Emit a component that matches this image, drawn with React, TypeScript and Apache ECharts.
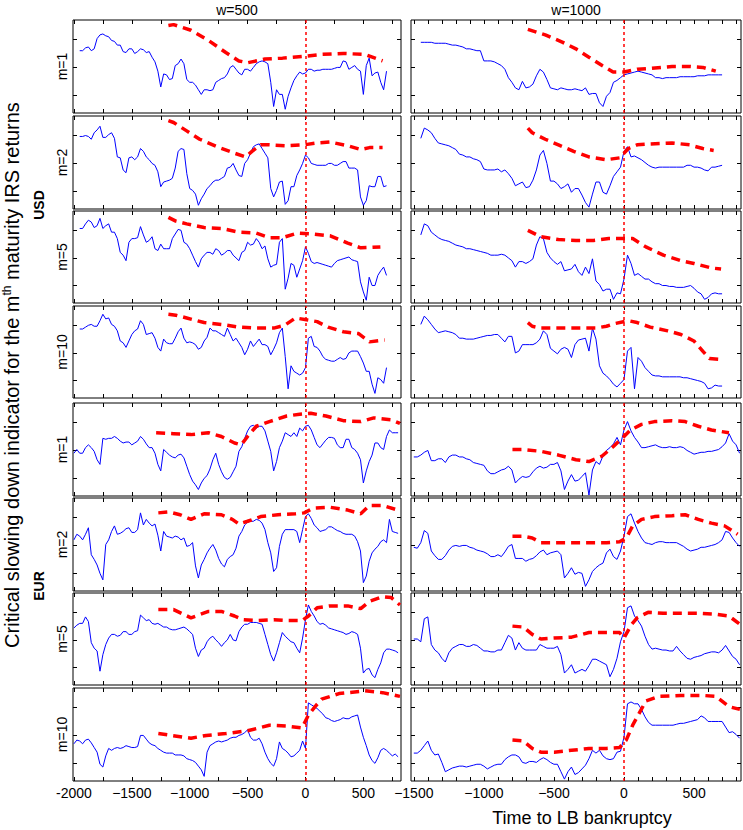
import { useEffect, useRef } from 'react';
import * as echarts from 'echarts';

// ---------- sampling of the time axis (days to LB bankruptcy) ----------
const STEP = 25;
const START_USD_W500 = -1950;
const START_USD_W1000 = -1450;
const START_EUR_W500 = -2000;
const START_EUR_W1000 = -1500;

// ---------- IRS returns (blue), % of panel height, one value every 25 days ----------
const USD_M1_W500 = [
  67,67,70,71,67,69,80,84,85,83, 82,78,77,73,73,66,65,69,69,64, 66,69,68,65,66,60,55,45,28,42,
  41,36,37,51,53,58,53,36,33,33, 30,25,20,25,25,24,25,33,35,37, 38,42,49,51,47,43,41,47,47,45,
  49,53,55,56,55,53,33,7,25,20, 20,4,18,27,35,40,44,42,43,47, 47,45,46,46,47,47,47,47,48,49,
  49,56,55,47,49,51,47,45,20,51, 59,40,43,44,33,25,45];
const USD_M2_W500 = [
  78,78,79,78,75,82,85,89,77,77, 80,82,76,56,55,42,39,55,56,53, 56,65,62,56,53,49,47,40,24,29,
  30,31,33,44,62,65,64,38,22,20, 16,4,11,16,22,25,29,31,31,33, 35,44,45,49,42,36,35,49,53,60,
  67,69,70,65,60,55,22,13,20,29, 30,5,9,24,24,36,42,49,58,55, 49,48,47,47,47,47,49,49,47,47,
  49,51,51,44,44,44,42,13,4,9, 25,24,24,35,35,24,25];
const USD_M5_W500 = [
  81,81,86,90,88,82,84,92,81,84, 86,77,77,70,55,52,46,66,70,70, 71,83,74,66,68,72,59,57,64,59,
  59,59,70,75,80,79,66,64,59,52, 45,39,48,52,55,55,53,59,57,52, 54,57,57,52,49,46,55,57,66,63,
  64,70,66,59,62,48,39,41,42,66, 70,15,27,43,41,28,37,46,61,54, 45,43,44,43,42,41,40,39,43,46,
  47,48,49,50,47,46,45,23,12,3, 28,19,19,30,35,39,30];
const USD_M10_W500 = [
  75,75,77,79,80,78,78,84,91,86, 87,80,78,73,62,60,55,62,69,73, 75,84,80,69,70,71,65,55,51,64,
  60,59,59,65,72,76,65,60,61,60, 58,53,55,62,66,76,73,73,71,69, 67,76,69,62,65,60,55,47,53,62,
  56,60,64,58,58,56,47,53,60,71, 76,45,10,35,29,27,25,27,33,65, 67,56,55,51,45,42,41,40,40,42,
  44,42,43,49,51,51,51,45,38,29, 29,15,5,22,20,16,33];
const USD_M1_W1000 = [
  76,76,76,76,75,75,75,75,74,73, 73,72,71,69,69,68,67,67,56,56, 56,55,53,51,47,38,33,27,25,34,
  27,28,31,40,47,44,36,27,26,25, 27,26,25,25,26,25,24,27,20,21, 21,11,7,18,22,33,35,38,41,42,
  43,44,45,44,43,42,41,38,38,37, 38,38,38,38,39,39,39,39,39,40, 40,40,41,41,41,41,41];
const USD_M2_W1000 = [
  76,87,85,82,76,71,70,69,68,66, 64,59,58,56,56,54,53,51,43,42, 42,42,43,40,42,38,33,25,27,29,
  23,24,31,42,58,63,49,30,30,27, 22,24,27,18,22,22,15,7,2,16, 29,29,18,16,25,35,40,45,62,67,
  56,57,55,53,50,47,45,44,45,45, 45,45,45,45,45,45,47,47,45,45, 44,42,41,45,45,46,47];
const USD_M5_W1000 = [
  74,86,84,77,74,71,69,68,67,65, 63,62,61,59,59,58,57,56,55,54, 52,52,52,53,52,49,46,39,45,45,
  43,45,48,63,72,70,55,49,45,42, 45,35,36,37,42,34,30,39,32,48, 24,20,13,15,15,4,11,10,26,52,
  43,30,32,29,26,26,23,21,21,19, 19,18,18,17,17,17,18,19,16,12, 10,4,6,10,11,10,10];
const USD_M10_W1000 = [
  80,89,85,80,75,71,72,73,72,71, 69,65,65,64,64,64,65,66,67,68, 68,69,69,65,61,67,67,49,51,58,
  58,58,58,60,64,73,69,54,51,48, 53,55,53,44,58,63,64,65,51,76, 64,35,27,24,20,15,12,16,20,51,
  55,10,44,40,33,29,25,24,24,23, 23,23,23,23,23,22,22,21,20,19, 18,16,10,11,14,13,13];
const EUR_M1_W500 = [
  46,50,46,46,52,55,52,48,39,34, 62,61,62,62,64,62,59,57,58,58, 55,57,59,64,61,56,52,52,46,34,
  27,50,47,44,42,41,44,45,41,32, 23,16,12,7,14,19,22,29,39,46, 34,26,20,18,20,26,32,48,53,62,
  70,75,76,73,75,75,70,59,48,27, 37,52,59,68,66,64,68,64,73,70, 75,76,71,63,55,52,56,60,63,63,
  62,55,52,52,61,61,52,50,46,39, 14,27,37,44,57,57,52,50,64,71, 68,68,68];
const EUR_M2_W500 = [
  55,61,59,55,61,68,39,34,28,19, 12,50,55,64,70,61,62,64,67,68, 63,63,66,84,71,77,73,70,72,60,
  43,64,59,58,57,59,58,55,57,48, 49,52,27,14,28,34,41,46,50,44, 35,29,26,34,37,39,46,59,64,71,
  74,75,75,77,76,73,66,52,41,21, 25,48,61,66,66,66,66,64,52,66, 80,83,78,71,68,64,65,66,69,69,
  67,65,64,62,61,61,61,59,53,43, 9,16,32,41,45,48,53,55,52,77, 64,63,62];
const EUR_M5_W500 = [
  62,65,67,67,74,69,46,40,37,15, 33,44,51,55,55,53,54,58,58,55, 55,58,59,76,73,70,71,67,66,67,
  65,63,63,61,60,60,61,62,63,61, 58,55,40,31,38,40,47,51,53,49, 46,42,46,49,55,49,48,58,63,66,
  66,68,68,68,67,66,55,44,33,26, 35,46,57,53,50,47,46,40,35,51, 71,87,80,75,69,66,67,65,62,61,
  60,59,58,57,55,56,58,57,55,40, 13,17,18,11,8,17,24,35,39,39, 38,37,35];
const EUR_M10_W500 = [
  40,44,43,40,44,45,41,36,31,18, 15,27,35,33,35,36,35,36,38,37, 36,36,37,49,49,45,41,39,38,35,
  33,31,30,30,30,28,28,28,27,24, 23,22,20,16,12,5,31,38,40,42, 43,42,43,44,46,47,47,49,50,52,
  55,47,44,44,46,40,31,24,19,16, 24,42,35,33,30,26,27,30,33,43, 35,84,82,80,78,75,72,68,67,65,
  64,65,66,68,67,67,69,70,71,58, 47,38,28,22,19,25,33,35,33,30, 27,29,26];
const EUR_M1_W1000 = [
  42,42,44,47,49,38,38,40,40,36, 42,44,44,42,42,40,39,36,35,34, 33,27,24,24,26,28,29,32,28,14,
  18,21,20,21,26,30,32,30,31,34, 34,36,27,7,16,23,16,17,21,25, 1,28,37,34,43,49,52,56,63,55,
  71,80,70,63,58,52,52,53,54,55, 53,52,52,53,52,52,53,52,49,47, 45,46,47,47,48,48,49,50,53,57,
  67,59,55,46];
const EUR_M2_W1000 = [
  47,46,52,65,62,43,38,34,34,38, 44,48,49,48,49,49,47,46,44,43, 42,40,37,37,39,37,42,48,50,35,
  35,35,32,34,35,38,42,44,39,41, 42,43,39,14,19,25,18,20,19,5, 12,21,25,28,30,41,45,37,34,43,
  59,80,83,73,64,57,52,51,50,52, 53,53,52,52,52,52,50,48,45,43, 44,45,47,47,48,49,50,52,55,64,
  63,57,52,48];
const EUR_M5_W1000 = [
  50,50,47,72,74,44,38,35,29,25, 35,40,42,44,44,42,42,44,43,40, 37,37,36,36,38,38,46,54,51,38,
  46,40,38,38,38,38,44,42,40,40, 40,42,33,13,17,22,13,15,17,15, 21,28,28,26,24,22,9,17,29,47,
  58,84,86,75,70,64,53,44,39,40, 39,38,38,37,37,42,37,33,29,28, 30,31,32,34,35,36,36,35,38,43,
  37,31,28,22];
const EUR_M10_W1000 = [
  30,30,33,38,43,33,28,29,20,10, 12,14,15,16,16,15,16,17,18,18, 16,13,15,17,18,18,23,26,28,28,
  26,20,19,21,21,20,23,25,23,20, 18,18,10,2,10,15,7,9,13,17, 24,33,30,33,27,24,23,24,31,32,
  47,83,85,83,83,77,69,63,60,60, 60,60,60,60,60,61,62,62,63,64, 65,66,70,68,64,64,64,64,64,58,
  52,53,50,46];

// ---------- critical slowing down indicator (red dashed), [time, %] ----------
const CSD_USD_M1_W500 = [[-1184,94],[-1139,95],[-989,89],[-838,78],[-688,65],[-575,56],[-500,54],[-350,58],[-199,59],[-11,61],[139,63],[327,64],[515,63],[666,56]];
const CSD_USD_M2_W500 = [[-1184,95],[-1139,93],[-1026,84],[-914,75],[-763,67],[-613,60],[-519,56],[-462,62],[-387,69],[-312,69],[-162,68],[-11,69],[101,71],[214,72],[365,68],[477,64],[553,66],[666,66]];
const CSD_USD_M5_W500 = [[-1184,93],[-1120,89],[-1026,86],[-876,82],[-726,81],[-575,77],[-425,76],[-312,71],[-199,71],[-68,76],[64,75],[214,73],[365,65],[477,60],[647,61]];
const CSD_USD_M10_W500 = [[-1184,91],[-1120,90],[-1026,87],[-876,82],[-726,80],[-575,77],[-425,76],[-274,76],[-180,79],[-86,87],[8,85],[101,83],[195,77],[327,72],[459,70],[553,61],[684,63]];
const CSD_USD_M1_W1000 = [[-686,90],[-562,84],[-437,76],[-343,69],[-250,60],[-156,51],[-78,44],[0,44],[94,47],[187,48],[343,50],[468,50],[562,49],[655,45]];
const CSD_USD_M2_W1000 = [[-686,87],[-655,82],[-562,75],[-468,69],[-359,62],[-250,56],[-125,53],[-31,55],[31,65],[94,69],[187,70],[343,71],[468,69],[562,65],[640,63]];
const CSD_USD_M5_W1000 = [[-686,79],[-593,72],[-468,69],[-343,68],[-218,68],[-109,70],[0,70],[62,70],[156,61],[281,52],[406,46],[499,43],[624,38],[693,37]];
const CSD_USD_M10_W1000 = [[-686,82],[-655,78],[-593,76],[-400,76],[-203,76],[-125,78],[-62,81],[31,84],[94,82],[187,77],[312,73],[406,69],[499,62],[562,51],[609,43],[693,42]];
const CSD_EUR_M1_W500 = [[-1290,68],[-1139,67],[-989,66],[-838,68],[-726,64],[-613,57],[-556,55],[-500,64],[-425,75],[-312,80],[-162,86],[-49,88],[45,89],[177,86],[327,81],[477,80],[590,84],[741,82],[816,78]];
const CSD_EUR_M2_W500 = [[-1271,84],[-1177,85],[-1083,82],[-989,77],[-876,83],[-726,82],[-632,77],[-575,72],[-500,75],[-387,80],[-237,82],[-86,83],[-11,84],[64,89],[214,90],[365,87],[477,83],[553,92],[666,92],[797,87]];
const CSD_EUR_M5_W500 = [[-1271,82],[-1139,82],[-989,73],[-838,80],[-726,80],[-613,75],[-538,71],[-425,70],[-274,71],[-162,70],[-30,70],[26,75],[101,84],[214,86],[365,86],[477,83],[553,91],[666,96],[741,95],[816,87]];
const CSD_EUR_M10_W500 = [[-1271,51],[-989,46],[-857,49],[-688,51],[-500,54],[-312,60],[-162,59],[-30,57],[26,71],[83,80],[139,88],[290,94],[515,97],[666,95],[816,91]];
const CSD_EUR_M1_W1000 = [[-796,50],[-718,50],[-593,48],[-468,44],[-343,39],[-250,37],[-156,43],[-78,53],[0,64],[47,71],[125,77],[218,80],[343,81],[437,80],[530,75],[624,71],[749,68]];
const CSD_EUR_M2_W1000 = [[-796,59],[-718,59],[-655,57],[-593,52],[-499,52],[-374,52],[-250,52],[-125,52],[-31,53],[16,57],[62,70],[125,77],[218,80],[343,81],[437,82],[530,77],[624,73],[718,70],[811,61]];
const CSD_EUR_M5_W1000 = [[-796,64],[-718,63],[-655,55],[-593,50],[-499,51],[-374,52],[-250,57],[-125,57],[-31,57],[0,51],[50,65],[94,73],[172,79],[281,78],[406,78],[530,78],[655,77],[749,75],[827,66]];
const CSD_EUR_M10_W1000 = [[-796,44],[-718,43],[-655,35],[-593,31],[-499,31],[-374,33],[-250,35],[-125,35],[-31,36],[16,44],[62,60],[109,73],[156,86],[250,91],[406,92],[562,92],[655,91],[749,80],[827,77]];

// ---------- ticks & labels ----------
const X_TICKS_W500 = [-2000,-1750,-1500,-1250,-1000,-750,-500,-250,0,250,500,750];
const X_LABELS_W500 = [-2000,-1500,-1000,-500,0,500];
const X_TICKS_W1000 = [-1500,-1400,-1300,-1200,-1100,-1000,-900,-800,-700,-600,-500,-400,-300,-200,-100,0,100,200,300,400,500,600,700,800];
const X_LABELS_W1000 = [-1500,-1000,-500,0,500];
const Y_TICKS = [19,49,79];
const WINDOWS = ['w=500', 'w=1000'];
const MATURITIES = ['m=1', 'm=2', 'm=5', 'm=10'];
const CURRENCIES = ['USD', 'EUR'];

const PANELS = [
  { row: 0, col: 0, t0: START_USD_W500, blue: USD_M1_W500, red: CSD_USD_M1_W500 },
  { row: 0, col: 1, t0: START_USD_W1000, blue: USD_M1_W1000, red: CSD_USD_M1_W1000 },
  { row: 1, col: 0, t0: START_USD_W500, blue: USD_M2_W500, red: CSD_USD_M2_W500 },
  { row: 1, col: 1, t0: START_USD_W1000, blue: USD_M2_W1000, red: CSD_USD_M2_W1000 },
  { row: 2, col: 0, t0: START_USD_W500, blue: USD_M5_W500, red: CSD_USD_M5_W500 },
  { row: 2, col: 1, t0: START_USD_W1000, blue: USD_M5_W1000, red: CSD_USD_M5_W1000 },
  { row: 3, col: 0, t0: START_USD_W500, blue: USD_M10_W500, red: CSD_USD_M10_W500 },
  { row: 3, col: 1, t0: START_USD_W1000, blue: USD_M10_W1000, red: CSD_USD_M10_W1000 },
  { row: 4, col: 0, t0: START_EUR_W500, blue: EUR_M1_W500, red: CSD_EUR_M1_W500 },
  { row: 4, col: 1, t0: START_EUR_W1000, blue: EUR_M1_W1000, red: CSD_EUR_M1_W1000 },
  { row: 5, col: 0, t0: START_EUR_W500, blue: EUR_M2_W500, red: CSD_EUR_M2_W500 },
  { row: 5, col: 1, t0: START_EUR_W1000, blue: EUR_M2_W1000, red: CSD_EUR_M2_W1000 },
  { row: 6, col: 0, t0: START_EUR_W500, blue: EUR_M5_W500, red: CSD_EUR_M5_W500 },
  { row: 6, col: 1, t0: START_EUR_W1000, blue: EUR_M5_W1000, red: CSD_EUR_M5_W1000 },
  { row: 7, col: 0, t0: START_EUR_W500, blue: EUR_M10_W500, red: CSD_EUR_M10_W500 },
  { row: 7, col: 1, t0: START_EUR_W1000, blue: EUR_M10_W1000, red: CSD_EUR_M10_W1000 },
];

const FONT = '"Liberation Sans", Arial, Helvetica, sans-serif';
const COLS = [
  { left: 73, width: 328, min: -2008, max: 825, ticks: X_TICKS_W500, labels: X_LABELS_W500 },
  { left: 411, width: 330, min: -1520, max: 835, ticks: X_TICKS_W1000, labels: X_LABELS_W1000 },
];
const ROW_TOPS = [20, 116, 211, 306, 403, 498, 593, 688];
const ROW_H = [93, 93, 92, 92, 93, 93, 92, 93];

function fmtTick(v: number) {
  if (v === -2000) return '-2000';
  return v < 0 ? '\u2212' + Math.abs(v) : String(v);
}

function txt(text: string, x: number, y: number, size: number, opts: any = {}) {
  return {
    type: 'text', x, y, rotation: opts.rotation || 0, silent: true,
    style: {
      text, fill: '#000', fontSize: size, fontFamily: FONT, fontWeight: opts.bold ? 'bold' : 'normal',
      align: 'center', verticalAlign: 'middle', textAlign: 'center', textVerticalAlign: 'middle',
      rich: opts.rich,
    },
  };
}

function buildOption() {
  const grid: any[] = [], xAxis: any[] = [], yAxis: any[] = [], series: any[] = [];
  PANELS.forEach((p, i) => {
    const c = COLS[p.col];
    grid.push({ left: c.left, top: ROW_TOPS[p.row], width: c.width, height: ROW_H[p.row], show: true, borderColor: '#000', borderWidth: 1, backgroundColor: '#fff', containLabel: false });
    const tick = { show: true, inside: true, length: 4, customValues: c.ticks, lineStyle: { color: '#000', width: 1 } };
    const baseX = { type: 'value', gridIndex: i, min: c.min, max: c.max, splitLine: { show: false }, axisLine: { show: false, onZero: false }, axisTick: tick };
    xAxis.push({ ...baseX, position: 'bottom', axisLabel: { show: p.row === 7, customValues: c.labels, formatter: fmtTick, color: '#000', fontSize: 14, fontFamily: FONT, margin: 5, showMinLabel: true, showMaxLabel: true } });
    xAxis.push({ ...baseX, position: 'top', axisLabel: { show: false } });
    const baseY = { type: 'value', gridIndex: i, min: 0, max: 100, splitLine: { show: false }, axisLine: { show: false, onZero: false }, axisLabel: { show: false }, axisTick: { show: true, inside: true, length: 4, customValues: Y_TICKS, lineStyle: { color: '#000', width: 1 } } };
    yAxis.push({ ...baseY, position: 'left' });
    yAxis.push({ ...baseY, position: 'right' });
    series.push({
      type: 'line', xAxisIndex: 2 * i, yAxisIndex: 2 * i, z: 2,
      data: p.blue.map((v, k) => [p.t0 + k * STEP, v]),
      showSymbol: false, symbol: 'none', lineStyle: { color: '#0000ff', width: 1 },
      markLine: { silent: true, symbol: ['none', 'none'], label: { show: false }, lineStyle: { color: '#ff0000', type: [3, 3], width: 1.5 }, data: [{ xAxis: 0 }] },
    });
    series.push({
      type: 'line', xAxisIndex: 2 * i, yAxisIndex: 2 * i, z: 3,
      data: p.red, showSymbol: false, symbol: 'none',
      lineStyle: { color: '#ff0000', width: 3.5, type: [9, 6], cap: 'butt' },
    });
  });

  const graphic: any[] = [];
  WINDOWS.forEach((w, ci) => graphic.push(txt(w, COLS[ci].left + COLS[ci].width / 2, 10, 14)));
  for (let r = 0; r < 8; r++) {
    graphic.push(txt(MATURITIES[r % 4], 62, ROW_TOPS[r] + ROW_H[r] / 2, 14, { rotation: Math.PI / 2 }));
  }
  graphic.push(txt(CURRENCIES[0], 39, 205, 14, { rotation: Math.PI / 2, bold: true }));
  graphic.push(txt(CURRENCIES[1], 39, 586, 14, { rotation: Math.PI / 2, bold: true }));
  graphic.push(txt('Critical slowing down indicator for the m{sup|th} maturity IRS returns', 12, 375, 20, {
    rotation: Math.PI / 2,
    rich: { sup: { fontSize: 12, fontFamily: FONT, verticalAlign: 'top', lineHeight: 22, padding: [0, 0, 9, 0] } },
  }));
  graphic.push(txt('Time to LB bankruptcy', 582, 818, 18));

  return { animation: false, backgroundColor: '#fff', grid, xAxis, yAxis, series, graphic };
}

export default function App() {
  const ref = useRef<HTMLDivElement>(null);
  useEffect(() => {
    if (!ref.current) return;
    const chart = echarts.init(ref.current, undefined, { renderer: 'svg' });
    chart.setOption(buildOption() as any);
    return () => chart.dispose();
  }, []);
  return <div ref={ref} style={{ position: 'absolute', left: 0, top: 0, width: 743, height: 830, background: '#fff' }} />;
}
